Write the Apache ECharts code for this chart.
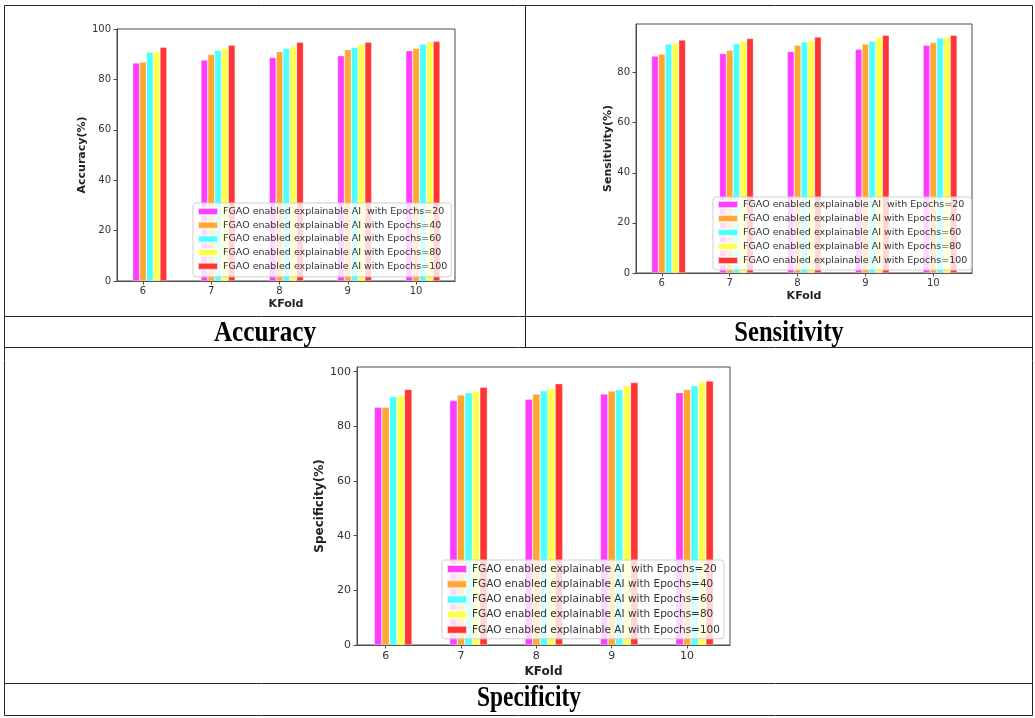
<!DOCTYPE html>
<html>
<head>
<meta charset="utf-8">
<script src="https://cdn.jsdelivr.net/npm/echarts@6/dist/echarts.min.js"></script>
<style>
html, body { margin: 0; padding: 0; background: #fff; }
#main { width: 1035px; height: 718px; }
</style>
</head>
<body>
<div id="main"></div>
<script>
// x categories (KFold) and legend names
var kfold = [6, 7, 8, 9, 10];
var legendNames = [
    'FGAO enabled explainable AI  with Epochs=20',
    'FGAO enabled explainable AI with Epochs=40',
    'FGAO enabled explainable AI with Epochs=60',
    'FGAO enabled explainable AI with Epochs=80',
    'FGAO enabled explainable AI with Epochs=100'
];

// Accuracy(%) per epoch setting
var accuracy20 = [86.5, 87.7, 88.7, 89.4, 91.4];
var accuracy40 = [86.9, 89.9, 91.0, 91.8, 92.4];
var accuracy60 = [90.8, 91.6, 92.3, 92.7, 94.0];
var accuracy80 = [91.1, 92.4, 93.2, 94.0, 95.0];
var accuracy100 = [92.8, 93.6, 94.7, 94.7, 95.1];

// Sensitivity(%)
var sensitivity20 = [86.6, 87.6, 88.4, 89.3, 90.9];
var sensitivity40 = [87.4, 88.9, 90.9, 91.4, 92.0];
var sensitivity60 = [91.4, 91.6, 92.2, 92.5, 93.8];
var sensitivity80 = [91.7, 92.6, 92.9, 94.0, 94.0];
var sensitivity100 = [93.0, 93.6, 94.2, 94.9, 94.9];

// Specificity(%)
var specificity20 = [87.0, 89.4, 89.9, 91.8, 92.3];
var specificity40 = [87.0, 91.5, 91.8, 92.9, 93.5];
var specificity60 = [90.9, 92.3, 93.0, 93.4, 94.8];
var specificity80 = [91.1, 92.8, 93.8, 94.8, 96.2];
var specificity100 = [93.5, 94.3, 95.6, 96.0, 96.6];

var yTicks100 = [0, 20, 40, 60, 80, 100];
var yTicks80 = [0, 20, 40, 60, 80];
var captions = ['Accuracy', 'Sensitivity', 'Specificity'];

var chart = echarts.init(document.getElementById('main'));

var colors = ['#ff3dff', '#ffa733', '#4dffff', '#ffff4d', '#ff3535'];
var barShift = [-0.1, 0, 0.1, 0.2, 0.3];   // like r + i*barWidth in matplotlib
var axisColor = '#4a4a4a';
var textColor = '#333';

var panels = [
    {
        values: [accuracy20, accuracy40, accuracy60, accuracy80, accuracy100],
        yName: 'Accuracy(%)', yMax: 100, ticks: yTicks100,
        grid: { left: 117, top: 29, width: 338, height: 252 },
        font: 10, nameFont: 11, yNameGap: 27, xNameGap: 18, labelMargin: 5,
        legend: { left: 193, top: 203, padding: [3, 4, 5, 4], itemGap: 2.7, itemHeight: 7, fontSize: 9.5, lineHeight: 11 }
    },
    {
        values: [sensitivity20, sensitivity40, sensitivity60, sensitivity80, sensitivity100],
        yName: 'Sensitivity(%)', yMax: 99.4, ticks: yTicks80,
        grid: { left: 636, top: 24, width: 336, height: 249 },
        font: 10, nameFont: 11, yNameGap: 18, xNameGap: 17.5, labelMargin: 5,
        legend: { left: 713, top: 197, padding: [2, 4, 4, 4], itemGap: 3, itemHeight: 7, fontSize: 9.5, lineHeight: 11 }
    },
    {
        values: [specificity20, specificity40, specificity60, specificity80, specificity100],
        yName: 'Specificity(%)', yMax: 101.7, ticks: yTicks100,
        grid: { left: 357, top: 367, width: 373, height: 278 },
        font: 11, nameFont: 12, yNameGap: 30, xNameGap: 20.5, labelMargin: 6,
        legend: { left: 442, top: 560, padding: [3, 4, 3, 4], itemGap: 3.2, itemHeight: 8, fontSize: 10.5, lineHeight: 12 }
    }
];

var grids = [], xAxes = [], yAxes = [], series = [], legends = [];

panels.forEach(function (p, pi) {
    grids.push({
        left: p.grid.left, top: p.grid.top, width: p.grid.width, height: p.grid.height,
        show: true, borderColor: axisColor, borderWidth: 1, backgroundColor: 'transparent'
    });
    xAxes.push({
        type: 'value', gridIndex: pi, min: 5.62, max: 10.57,
        name: 'KFold', nameLocation: 'middle', nameGap: p.xNameGap,
        nameTextStyle: { fontFamily: 'DejaVu Sans', fontWeight: 'bold', fontSize: p.nameFont, color: '#222' },
        axisLine: { show: true, lineStyle: { color: axisColor } },
        axisTick: { show: true, length: 3.5, customValues: kfold, lineStyle: { color: axisColor } },
        axisLabel: { customValues: kfold, margin: p.labelMargin, fontFamily: 'DejaVu Sans', fontSize: p.font, color: textColor },
        splitLine: { show: false }
    });
    yAxes.push({
        type: 'value', gridIndex: pi, min: 0, max: p.yMax,
        name: p.yName, nameLocation: 'middle', nameGap: p.yNameGap,
        nameTextStyle: { fontFamily: 'DejaVu Sans', fontWeight: 'bold', fontSize: p.nameFont, color: '#222' },
        axisLine: { show: true, lineStyle: { color: axisColor } },
        axisTick: { show: true, length: 3.5, customValues: p.ticks, lineStyle: { color: axisColor } },
        axisLabel: { customValues: p.ticks, margin: 6, fontFamily: 'DejaVu Sans', fontSize: p.font, color: textColor },
        splitLine: { show: false }
    });
    p.values.forEach(function (vals, si) {
        series.push({
            type: 'bar',
            name: legendNames[si],
            xAxisIndex: pi, yAxisIndex: pi,
            data: kfold.map(function (k, i) { return [k + barShift[si], vals[i]]; }),
            barWidth: '100%',
            barGap: '-100%',
            itemStyle: { color: colors[si], borderColor: 'rgba(255,255,255,0.7)', borderWidth: 0.5 },
            emphasis: { disabled: true }
        });
    });
    legends.push({
        orient: 'vertical',
        left: p.legend.left, top: p.legend.top,
        padding: p.legend.padding, itemGap: p.legend.itemGap,
        itemWidth: 20, itemHeight: p.legend.itemHeight,
        icon: 'rect',
        backgroundColor: 'rgba(255,255,255,0.8)',
        borderColor: '#cfcfcf', borderWidth: 1, borderRadius: 3,
        textStyle: { fontFamily: 'DejaVu Sans', fontSize: p.legend.fontSize, lineHeight: p.legend.lineHeight, color: textColor },
        data: legendNames,
        selectedMode: false
    });
});

// table frame around the three figures
var lineStyle = { stroke: '#262626', lineWidth: 1 };
function hLine(x1, x2, y) { return { type: 'line', shape: { x1: x1, y1: y, x2: x2, y2: y }, style: lineStyle, silent: true }; }
function vLine(x, y1, y2) { return { type: 'line', shape: { x1: x, y1: y1, x2: x, y2: y2 }, style: lineStyle, silent: true }; }
function caption(text, x, y, sx) {
    return {
        type: 'text', x: x, y: y, scaleX: sx, silent: true,
        style: { text: text, x: 0, y: 0, textAlign: 'center', textVerticalAlign: 'middle',
                 font: 'bold 30px "Liberation Serif", "Times New Roman", serif', fill: '#000' }
    };
}

var graphics = [
    hLine(4.5, 1032.5, 5.5),
    hLine(4.5, 1032.5, 316.5),
    hLine(4.5, 1032.5, 347.5),
    hLine(4.5, 1032.5, 683.5),
    hLine(4.5, 1032.5, 715.5),
    vLine(4.5, 5.5, 715.5),
    vLine(1032.5, 5.5, 715.5),
    vLine(525.5, 5.5, 347.5),
    caption(captions[0], 265, 333, 0.84),
    caption(captions[1], 789, 333, 0.82),
    caption(captions[2], 529, 698, 0.78)
];

chart.setOption({
    backgroundColor: '#fff',
    animation: false,
    grid: grids,
    xAxis: xAxes,
    yAxis: yAxes,
    legend: legends,
    series: series,
    graphic: graphics
});
</script>
</body>
</html>
